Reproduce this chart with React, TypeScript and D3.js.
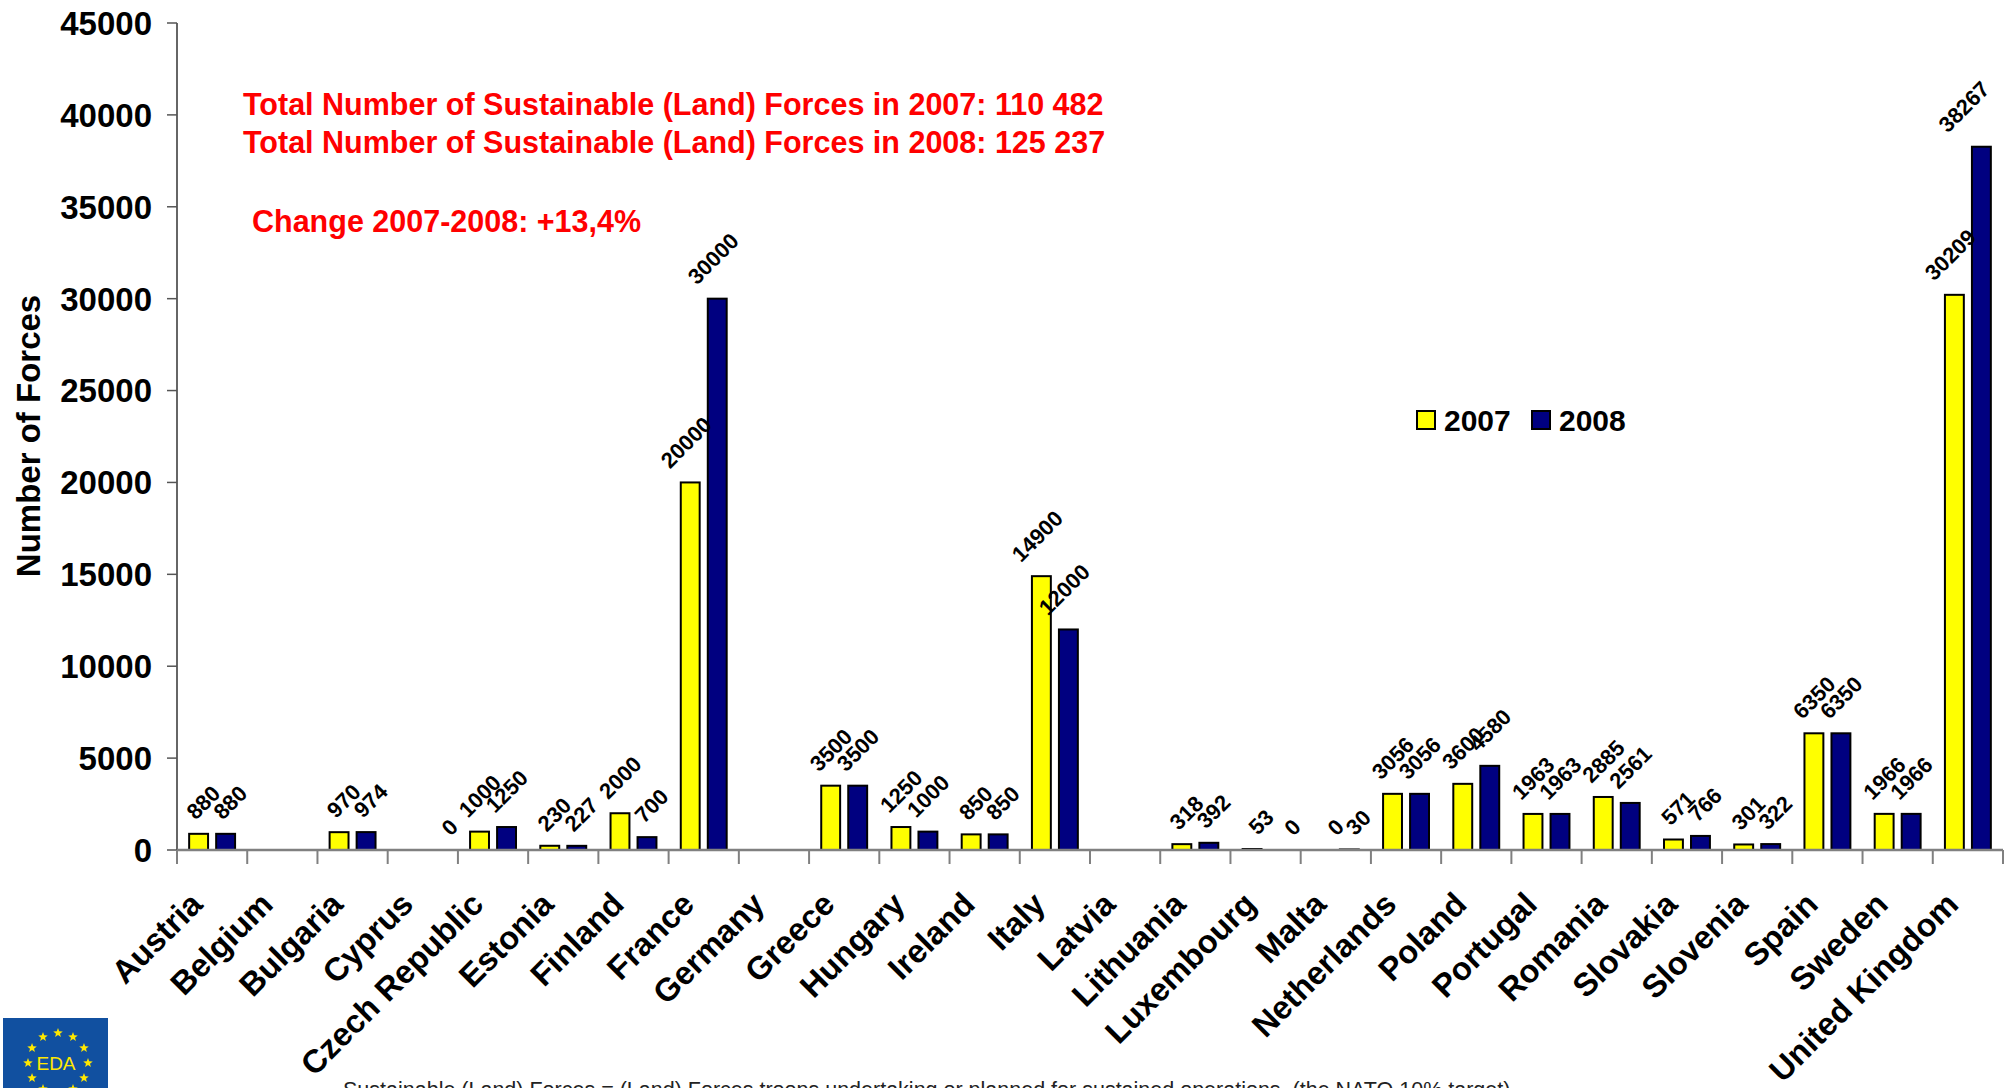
import React from "react";
import * as d3 from "d3";

const countries = [
  "Austria", "Belgium", "Bulgaria", "Cyprus", "Czech Republic", "Estonia", "Finland", "France",
  "Germany", "Greece", "Hungary", "Ireland", "Italy", "Latvia", "Lithuania", "Luxembourg", "Malta",
  "Netherlands", "Poland", "Portugal", "Romania", "Slovakia", "Slovenia", "Spain", "Sweden", "United Kingdom",
];
const forces2007: (number | null)[] = [
  880, null, 970, null, 1000, 230, 2000, 20000, null, 3500, 1250, 850, 14900, null, 318, 53, 0,
  3056, 3600, 1963, 2885, 571, 301, 6350, 1966, 30209,
];
const forces2008: (number | null)[] = [
  880, null, 974, 0, 1250, 227, 700, 30000, null, 3500, 1000, 850, 12000, null, 392, 0, 30,
  3056, 4580, 1963, 2561, 766, 322, 6350, 1966, 38267,
];
const years = ["2007", "2008"];
const yTicks = [0, 5000, 10000, 15000, 20000, 25000, 30000, 35000, 40000, 45000];
const annotations = [
  "Total Number of Sustainable (Land) Forces in 2007: 110 482",
  "Total Number of Sustainable (Land) Forces in 2008: 125 237",
];
const changeText = "Change 2007-2008: +13,4%";
const footerText =
  "Sustainable (Land) Forces = (Land) Forces troops undertaking or planned for sustained operations. (the NATO 10% target)";

const W = 2007;
const H = 1088;
const FONT = "'Liberation Sans', Arial, Helvetica, sans-serif";
const colors: Record<string, string> = { "2007": "#FFFF00", "2008": "#000080" };

export default function App() {
  const left = 177;
  const right = 2003;
  const top = 23;
  const bottom = 850;

  const x0 = d3.scaleBand<string>().domain(countries).range([left, right]).paddingInner(0).paddingOuter(0);
  const x1 = d3.scaleBand<string>().domain(years).range([0, x0.bandwidth()]).paddingInner(0.3).paddingOuter(0.45);
  const y = d3.scaleLinear().domain([0, 45000]).range([bottom, top]);

  const series = [forces2007, forces2008];
  const labelFs = 22;

  const bars: React.ReactNode[] = [];
  const labels: React.ReactNode[] = [];
  countries.forEach((c, i) => {
    years.forEach((yr, j) => {
      const v = series[j][i];
      if (v === null) return;
      const bx = (x0(c) as number) + (x1(yr) as number);
      const bw = x1.bandwidth();
      const by = y(v);
      if (v > 0) {
        bars.push(
          <rect key={`b-${c}-${yr}`} x={bx} y={by} width={bw} height={bottom - by}
            fill={colors[yr]} stroke="#000" strokeWidth={2} />
        );
      }
      const txt = String(v);
      const L = txt.length * 0.556 * labelFs;
      const px = Math.min(bx + bw / 2 + 23, W - 16);
      const py = by - 13 - 0.707 * L;
      labels.push(
        <text key={`l-${c}-${yr}`} x={px} y={py} textAnchor="end"
          transform={`rotate(-45 ${px} ${py})`} fontSize={labelFs} fontWeight="bold" fontFamily={FONT} fill="#000">
          {txt}
        </text>
      );
    });
  });

  const catTicks = countries.map((c) => x0(c) as number).concat([right]);

  const stars = d3.range(12).map((k) => {
    const a = (k / 12) * 2 * Math.PI;
    return { x: 58 + 30 * Math.sin(a), y: 1063 - 30 * Math.cos(a) };
  });
  const starPath = (cx: number, cy: number, r: number) => {
    const pts: string[] = [];
    for (let k = 0; k < 10; k++) {
      const rr = k % 2 === 0 ? r : r * 0.42;
      const a = (k / 10) * 2 * Math.PI;
      pts.push(`${cx + rr * Math.sin(a)},${cy - rr * Math.cos(a)}`);
    }
    return `M${pts.join("L")}Z`;
  };

  return (
    <svg width={W} height={H} style={{ position: "absolute", left: 0, top: 0, background: "#fff" }}
      fontFamily={FONT}>
      <rect x={0} y={0} width={W} height={H} fill="#fff" />
      {/* y axis */}
      <line x1={left} x2={left} y1={top} y2={bottom} stroke="#333" strokeWidth={1.5} />
      {yTicks.map((t) => (
        <g key={`yt-${t}`}>
          <line x1={left - 10} x2={left} y1={y(t)} y2={y(t)} stroke="#555" strokeWidth={1.5} />
          <text x={152} y={y(t)} dy="0.36em" textAnchor="end" fontSize={33} fontWeight="bold" fill="#000">
            {t}
          </text>
        </g>
      ))}
      <text x={0} y={0} transform={`translate(28 436) rotate(-90)`} textAnchor="middle" dy="0.36em"
        fontSize={33} fontWeight="bold" fill="#000">
        Number of Forces
      </text>
      {/* bars */}
      {bars}
      {/* x axis */}
      <line x1={left} x2={right} y1={bottom} y2={bottom} stroke="#808080" strokeWidth={2.5} />
      {catTicks.map((tx, i) => (
        <line key={`xt-${i}`} x1={tx} x2={tx} y1={bottom} y2={bottom + 14} stroke="#808080" strokeWidth={2} />
      ))}
      {countries.map((c) => {
        const cx = (x0(c) as number) + x0.bandwidth() / 2 - 16;
        const cy = 898;
        return (
          <text key={`xl-${c}`} x={cx} y={cy} dy="0.36em" textAnchor="end"
            transform={`rotate(-45 ${cx} ${cy})`} fontSize={32.5} fontWeight="bold" fill="#000">
            {c}
          </text>
        );
      })}
      {labels}
      {/* annotations */}
      <text x={243} y={115} fontSize={30.5} fontWeight="bold" fill="#FF0000">{annotations[0]}</text>
      <text x={243} y={153} fontSize={30.5} fontWeight="bold" fill="#FF0000">{annotations[1]}</text>
      <text x={252} y={232} fontSize={30.5} fontWeight="bold" fill="#FF0000">{changeText}</text>
      {/* legend */}
      {years.map((yr, j) => (
        <g key={`lg-${yr}`}>
          <rect x={1417 + j * 115} y={411} width={18} height={18} fill={colors[yr]} stroke="#000" strokeWidth={2} />
          <text x={1444 + j * 115} y={420} dy="0.36em" fontSize={30} fontWeight="bold" fill="#000">{yr}</text>
        </g>
      ))}
      {/* footer */}
      <text x={343} y={1097} fontSize={21.5} fill="#222">{footerText}</text>
      {/* logo */}
      <rect x={3} y={1018} width={105} height={75} fill="#1150A0" />
      {stars.map((s, k) => (
        <path key={`st-${k}`} d={starPath(s.x, s.y, 5)} fill="#FFE800" />
      ))}
      <text x={56} y={1063} dy="0.36em" textAnchor="middle" fontSize={19} fill="#FFE800">EDA</text>
    </svg>
  );
}
